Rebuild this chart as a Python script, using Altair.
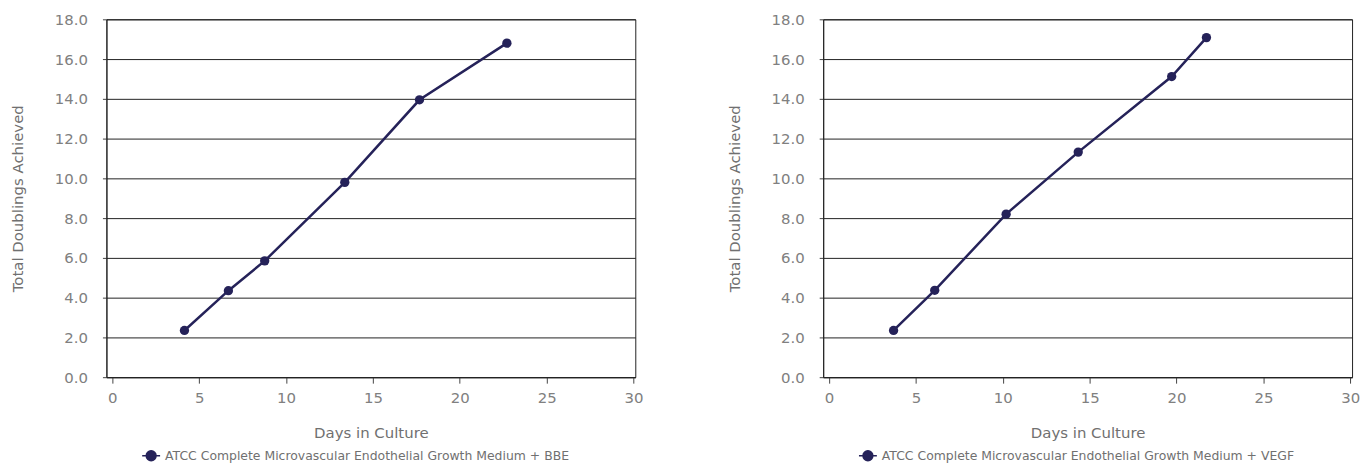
import altair as alt
import pandas as pd

# Data
days_bbe = [4.15, 6.68, 8.77, 13.38, 17.68, 22.71]
doublings_bbe = [2.35, 4.35, 5.85, 9.8, 13.95, 16.8]
days_vegf = [3.71, 6.08, 10.19, 14.34, 19.72, 21.72]
doublings_vegf = [2.35, 4.37, 8.2, 11.32, 15.12, 17.08]
series_bbe = "ATCC Complete Microvascular Endothelial Growth Medium + BBE"
series_vegf = "ATCC Complete Microvascular Endothelial Growth Medium + VEGF"
x_ticks = [0, 5, 10, 15, 20, 25, 30]
y_ticks = [0, 2, 4, 6, 8, 10, 12, 14, 16, 18]

NAVY = "#252259"
GRAY = "#808080"
FONT = "DejaVu Sans"
LEG_SYMBOL = "M-1,0H1M-0.55,0A0.55,0.55,0,1,1,0.55,0A0.55,0.55,0,1,1,-0.55,0Z"


def panel(days, dbl, name):
    df = pd.DataFrame({"Days": days, "Doublings": dbl, "Series": [name] * len(days)})
    color = alt.Color(
        "Series:N",
        scale=alt.Scale(domain=[name], range=[NAVY]),
        legend=alt.Legend(
            orient="none",
            legendX=35,
            legendY=429,
            direction="horizontal",
            title=None,
            symbolType=LEG_SYMBOL,
            symbolSize=324,
            symbolFillColor=NAVY,
            symbolStrokeColor=NAVY,
            symbolStrokeWidth=1.5,
            labelFont=FONT,
            labelFontSize=12.5,
            labelColor="#707070",
            labelLimit=600,
        ),
    )
    base = alt.Chart(df).encode(
        x=alt.X(
            "Days:Q",
            scale=alt.Scale(domain=[-0.34, 30.1], nice=False, zero=False),
            axis=alt.Axis(
                values=x_ticks,
                title="Days in Culture",
                grid=False,
                tickSize=6,
                labelPadding=7,
                titlePadding=21,
            ),
        ),
        y=alt.Y(
            "Doublings:Q",
            scale=alt.Scale(domain=[0, 18], nice=False),
            axis=alt.Axis(
                values=y_ticks,
                format=".1f",
                title="Total Doublings Achieved",
                grid=True,
                tickSize=4,
                labelPadding=15,
                titlePadding=29,
            ),
        ),
        color=color,
    )
    line = base.mark_line(strokeWidth=2.5)
    pts = base.mark_circle(size=88, opacity=1)
    return (line + pts).properties(width=532, height=360)


chart = (
    alt.hconcat(
        panel(days_bbe, doublings_bbe, series_bbe),
        panel(days_vegf, doublings_vegf, series_vegf),
        spacing=83,
    )
    .resolve_scale(color="independent")
    .resolve_legend(color="independent")
    .properties(padding={"top": 2, "left": 2, "right": 0, "bottom": 5})
    .configure_view(stroke="#222222", strokeWidth=1)
    .configure_axis(
        labelFont=FONT,
        labelFontSize=15,
        labelColor=GRAY,
        titleFont=FONT,
        titleFontSize=15,
        titleFontWeight="normal",
        titleColor="#707070",
        domainColor="#222222",
        tickColor="#444444",
        gridColor="#222222",
        gridWidth=1,
    )
)

chart.save("out.html", embed_options={"renderer": "svg", "actions": False})
